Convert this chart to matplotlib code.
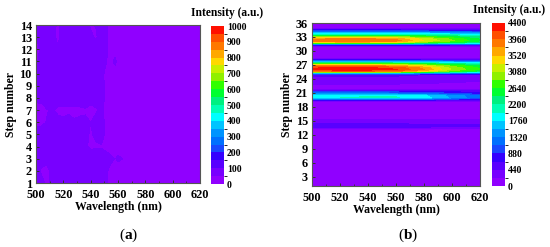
import matplotlib
matplotlib.use("Agg")
import matplotlib.pyplot as plt
import numpy as np
from matplotlib.colors import ListedColormap, BoundaryNorm

plt.rcParams['font.family'] = ['Liberation Serif', 'DejaVu Serif']
plt.rcParams['font.weight'] = 'bold'
plt.rcParams['mathtext.fontset'] = 'custom'
plt.rcParams['mathtext.rm'] = 'Liberation Serif'
plt.rcParams['mathtext.bf'] = 'Liberation Serif:bold'

# colours of the 20 colour bar steps, bottom to top
step_colors = ['#9000FF', '#7800FF', '#5800FF', '#3400FF', '#1848FF', '#0070FF', '#0094FF',
               '#00C4FF', '#00FFFF', '#00FFB4', '#00F080', '#00FF30', '#30FF00', '#90F000',
               '#C8F000', '#FFD800', '#FFA800', '#FF7800', '#FF5000', '#FF1000']

# panel a
wave_a = [500, 504, 508, 512, 516, 520, 524, 528, 532, 536, 540, 544, 548, 551, 554, 558, 560, 565, 574, 620]
steps_a = [1, 2, 3, 4, 5, 6, 7, 8, 9, 10, 11, 12, 13, 14]
row_1 = [60, 62, 40, 65, 70, 62, 66, 72, 68, 70, 74, 72, 76, 60, 40, 30, 20, 20, 20, 15]
row_2 = [60, 45, 38, 62, 68, 62, 70, 66, 70, 72, 70, 74, 78, 62, 38, 28, 22, 20, 20, 15]
row_3 = [64, 66, 62, 68, 72, 70, 66, 68, 70, 74, 80, 88, 90, 82, 66, 48, 60, 45, 45, 15]
row_4 = [66, 70, 64, 68, 75, 100, 66, 62, 60, 58, 40, 44, 42, 30, 25, 25, 22, 20, 20, 15]
row_5 = [70, 68, 72, 70, 74, 72, 68, 66, 62, 60, 45, 60, 88, 30, 25, 25, 30, 20, 20, 15]
row_6 = [40, 42, 52, 58, 62, 60, 72, 56, 60, 56, 50, 66, 92, 30, 22, 20, 20, 20, 20, 15]
row_7 = [38, 35, 48, 54, 42, 38, 38, 35, 40, 46, 38, 44, 62, 28, 20, 20, 20, 20, 20, 15]
row_8 = [58, 62, 74, 80, 70, 76, 82, 84, 78, 72, 66, 74, 92, 30, 24, 22, 20, 20, 20, 15]
row_9 = [58, 60, 66, 74, 62, 74, 80, 72, 78, 82, 64, 48, 80, 30, 24, 20, 20, 20, 20, 15]
row_10 = [52, 56, 64, 70, 56, 70, 72, 78, 82, 76, 68, 62, 74, 32, 24, 20, 20, 20, 20, 15]
row_11 = [48, 54, 60, 72, 60, 66, 74, 72, 80, 76, 70, 66, 78, 58, 28, 65, 22, 20, 20, 15]
row_12 = [46, 52, 60, 64, 52, 66, 72, 70, 68, 74, 66, 72, 78, 70, 26, 24, 20, 20, 20, 15]
row_13 = [50, 56, 52, 60, 44, 62, 64, 66, 70, 62, 56, 46, 66, 68, 26, 20, 20, 20, 20, 15]
row_14 = [52, 54, 56, 58, 46, 58, 62, 64, 66, 60, 46, 52, 62, 66, 24, 20, 20, 20, 20, 15]
ticks_a = [0, 100, 200, 300, 400, 500, 600, 700, 800, 900, 1000]

# panel b
wave_b = [500, 520, 540, 560, 580, 600, 620]
steps_b = [1, 13.2, 13.5, 14, 14.5, 15.2, 15.8, 19.1, 19.4, 19.7, 20, 20.4, 20.8, 21.3, 21.8,
           24.9, 25.3, 25.6, 26, 26.4, 26.8, 27.2, 27.6, 28.1, 28.6,
           30.8, 31.2, 31.5, 31.8, 32.2, 32.6, 33, 33.4, 33.8, 34.2, 34.6, 35, 36]
rows_b = [
    [0, 0, 0, 0, 0, 0, 0],
    [60, 60, 60, 60, 50, 50, 40],
    [420, 420, 420, 400, 380, 360, 340],
    [620, 620, 620, 600, 580, 540, 500],
    [380, 380, 380, 360, 340, 320, 320],
    [240, 240, 240, 240, 230, 230, 220],
    [60, 60, 60, 60, 60, 50, 40],
    [60, 60, 60, 60, 60, 60, 60],
    [600, 600, 600, 600, 580, 500, 420],
    [1300, 1300, 1300, 1300, 1250, 950, 800],
    [1950, 1980, 2000, 2000, 1850, 1500, 1150],
    [1950, 1950, 1950, 1950, 1800, 1450, 1150],
    [1300, 1300, 1300, 1250, 1150, 950, 800],
    [800, 800, 800, 780, 720, 620, 540],
    [80, 80, 80, 80, 80, 70, 60],
    [500, 500, 500, 480, 440, 400, 360],
    [1800, 1800, 1800, 1750, 1600, 1400, 1200],
    [3800, 3900, 3900, 3750, 3300, 2700, 2300],
    [4200, 4300, 4280, 4200, 3750, 3050, 2650],
    [4150, 4250, 4200, 4100, 3650, 3000, 2600],
    [3750, 3800, 3800, 3650, 3250, 2800, 2450],
    [2800, 2850, 2850, 2750, 2500, 2300, 2100],
    [1700, 1700, 1700, 1700, 1650, 1600, 1550],
    [600, 600, 600, 580, 560, 540, 520],
    [60, 60, 60, 60, 60, 60, 60],
    [100, 100, 100, 100, 100, 100, 100],
    [520, 520, 500, 480, 480, 460, 450],
    [1500, 1500, 1500, 1450, 1350, 1250, 1150],
    [3300, 3350, 3350, 3250, 2750, 2500, 2200],
    [3900, 3950, 3950, 3850, 3300, 2900, 2450],
    [3700, 3750, 3750, 3650, 3200, 2800, 2400],
    [3000, 3000, 3000, 2950, 2750, 2500, 2200],
    [2200, 2200, 2200, 2200, 2150, 2050, 1900],
    [1700, 1700, 1700, 1700, 1650, 1550, 1450],
    [1000, 1000, 1000, 1000, 980, 950, 900],
    [550, 550, 550, 550, 520, 500, 480],
    [100, 100, 100, 100, 100, 100, 100],
    [0, 0, 0, 0, 0, 0, 0],
]
ticks_b = [0, 440, 880, 1320, 1760, 2200, 2640, 3080, 3520, 3960, 4400]
wave_ticks = [500, 520, 540, 560, 580, 600, 620]
yticks_a = steps_a
yticks_b = [3, 6, 9, 12, 15, 18, 21, 24, 27, 30, 33, 36]

W, H = 550, 247
fig = plt.figure(figsize=(W / 100, H / 100), dpi=100)
cmap = ListedColormap(step_colors)


def add_panel(box, cbox, wave, steps, z, vmax, cticks, yticks, ylim, title_xy, tag, tag_xy):
    ax = fig.add_axes([box[0] / W, 1 - box[3] / H, (box[2] - box[0]) / W, (box[3] - box[1]) / H])
    levels = np.linspace(0, vmax, 21)
    cs = ax.contourf(wave, steps, z, levels=levels, cmap=cmap, norm=BoundaryNorm(levels, 20))
    ax.set_xlim(500, 620)
    ax.set_ylim(*ylim)
    ax.set_xticks(wave_ticks)
    ax.set_xticks([510, 530, 550, 570, 590, 610], minor=True)
    ax.set_yticks(yticks)
    ax.tick_params(axis='both', which='major', direction='in', length=2.5, width=0.7,
                   labelsize=8.8, color='#333333')
    ax.tick_params(axis='x', which='major', pad=4.5)
    ax.tick_params(axis='y', which='major', pad=3)
    ax.tick_params(axis='x', which='minor', direction='in', length=1.5, width=0.6, color='#333333')
    for s in ax.spines.values():
        s.set_linewidth(0.8)
        s.set_color('#555555')
    ax.set_xlabel('Wavelength (nm)', fontsize=8.5, fontweight='bold', labelpad=0)
    ax.set_ylabel('Step number', fontsize=8.5, fontweight='bold', labelpad=2)

    cax = fig.add_axes([cbox[0] / W, 1 - cbox[3] / H, (cbox[2] - cbox[0]) / W, (cbox[3] - cbox[1]) / H])
    cb = fig.colorbar(cs, cax=cax, ticks=cticks)
    cb.outline.set_visible(False)
    cb.ax.tick_params(length=0, labelsize=7, pad=2)
    fig.text(title_xy[0] / W, 1 - title_xy[1] / H, 'Intensity (a.u.)', fontsize=8.3,
             fontweight='bold', ha='center', va='center')
    fig.text(tag_xy[0] / W, 1 - tag_xy[1] / H, tag, fontsize=11, fontweight='normal',
             ha='center', va='center')


z_a = [row_1, row_2, row_3, row_4, row_5, row_6, row_7, row_8, row_9, row_10, row_11, row_12, row_13, row_14]
add_panel((36, 25, 200, 183), (211, 26, 224, 184), wave_a, steps_a, z_a, 1000, ticks_a,
          yticks_a, (1, 14), (227, 13), r'($\mathbf{a}$)', (129, 235))
add_panel((312, 23, 480, 186), (492, 23, 505, 186), wave_b, steps_b, rows_b, 4400, ticks_b,
          yticks_b, (1, 36), (509, 10), r'($\mathbf{b}$)', (408, 235))

plt.savefig("out.png", dpi=100)
